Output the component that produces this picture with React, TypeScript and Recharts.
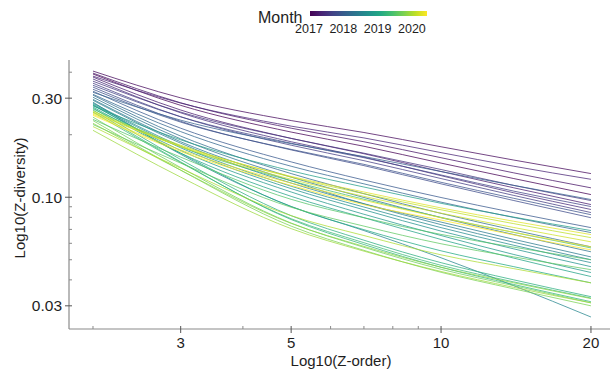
import React from 'react';
import { LineChart, Line, XAxis, YAxis } from 'recharts';

// Months Jan 2017 – May 2020
const months = [
  '2017-01', '2017-02', '2017-03', '2017-04', '2017-05', '2017-06', '2017-07', '2017-08', '2017-09', '2017-10', '2017-11', '2017-12',
  '2018-01', '2018-02', '2018-03', '2018-04', '2018-05', '2018-06', '2018-07', '2018-08', '2018-09', '2018-10', '2018-11', '2018-12',
  '2019-01', '2019-02', '2019-03', '2019-04', '2019-05', '2019-06', '2019-07', '2019-08', '2019-09', '2019-10', '2019-11', '2019-12',
  '2020-01', '2020-02', '2020-03', '2020-04', '2020-05',
];

// Z-order (x)
const orders = [2, 3, 5, 7, 10, 14, 20];

// Z-diversity values per month, at each order
const div2017 = [
  [0.392, 0.277, 0.206, 0.176, 0.146, 0.123, 0.103],
  [0.405, 0.301, 0.234, 0.205, 0.175, 0.151, 0.130],
  [0.396, 0.285, 0.215, 0.185, 0.155, 0.131, 0.111],
  [0.379, 0.263, 0.192, 0.162, 0.133, 0.111, 0.0922],
  [0.383, 0.284, 0.220, 0.193, 0.164, 0.141, 0.122],
  [0.371, 0.255, 0.185, 0.156, 0.127, 0.105, 0.0873],
  [0.362, 0.257, 0.192, 0.163, 0.136, 0.114, 0.0964],
  [0.354, 0.244, 0.178, 0.150, 0.123, 0.102, 0.0844],
  [0.346, 0.244, 0.182, 0.155, 0.128, 0.107, 0.0902],
  [0.339, 0.232, 0.169, 0.142, 0.116, 0.0964, 0.0797],
  [0.331, 0.230, 0.170, 0.144, 0.118, 0.0988, 0.0824],
  [0.324, 0.215, 0.148, 0.121, 0.0997, 0.0843, 0.0714],
];
const div2018 = [
  [0.320, 0.235, 0.181, 0.157, 0.133, 0.114, 0.0975],
  [0.313, 0.207, 0.141, 0.116, 0.0947, 0.0799, 0.0676],
  [0.310, 0.197, 0.130, 0.104, 0.0836, 0.0695, 0.0577],
  [0.303, 0.191, 0.125, 0.0997, 0.0797, 0.0661, 0.0546],
  [0.296, 0.185, 0.120, 0.0931, 0.0759, 0.0627, 0.0516],
  [0.293, 0.182, 0.117, 0.0928, 0.0738, 0.0607, 0.0500],
  [0.287, 0.161, 0.0903, 0.0691, 0.0511, 0.0375, 0.0265],
  [0.284, 0.176, 0.113, 0.0897, 0.0714, 0.0587, 0.0484],
  [0.281, 0.173, 0.110, 0.0870, 0.0687, 0.0564, 0.0463],
  [0.278, 0.168, 0.106, 0.0828, 0.0654, 0.0530, 0.0434],
  [0.275, 0.189, 0.134, 0.112, 0.0935, 0.0802, 0.0691],
  [0.272, 0.163, 0.101, 0.0797, 0.0626, 0.0509, 0.0415],
];
const div2019 = [
  [0.278, 0.163, 0.0901, 0.0698, 0.0552, 0.0463, 0.0387],
  [0.269, 0.152, 0.0815, 0.0621, 0.0484, 0.0400, 0.0332],
  [0.263, 0.148, 0.0781, 0.0592, 0.0460, 0.0380, 0.0314],
  [0.257, 0.147, 0.0788, 0.0604, 0.0470, 0.0391, 0.0327],
  [0.266, 0.175, 0.120, 0.0978, 0.0800, 0.0677, 0.0570],
  [0.237, 0.156, 0.0977, 0.0797, 0.0662, 0.0575, 0.0500],
  [0.224, 0.146, 0.0895, 0.0726, 0.0597, 0.0516, 0.0448],
  [0.243, 0.139, 0.0751, 0.0574, 0.0450, 0.0375, 0.0310],
  [0.234, 0.135, 0.0726, 0.0555, 0.0435, 0.0362, 0.0300],
  [0.227, 0.135, 0.0748, 0.0580, 0.0460, 0.0387, 0.0325],
  [0.210, 0.125, 0.0706, 0.0550, 0.0439, 0.0368, 0.0310],
  [0.219, 0.138, 0.0815, 0.0654, 0.0528, 0.0453, 0.0387],
];
const div2020 = [
  [0.260, 0.178, 0.125, 0.104, 0.0870, 0.0746, 0.0639],
  [0.257, 0.175, 0.122, 0.101, 0.0838, 0.0715, 0.0610],
  [0.254, 0.176, 0.126, 0.106, 0.0888, 0.0766, 0.0661],
  [0.251, 0.169, 0.117, 0.0966, 0.0797, 0.0678, 0.0577],
  [0.248, 0.166, 0.114, 0.0921, 0.0776, 0.0658, 0.0558],
];

const xTicks = [2, 3, 4, 5, 6, 7, 8, 9, 10, 20];
const xMajor = [3, 5, 10, 20];
const yTicks = [0.03, 0.04, 0.05, 0.06, 0.07, 0.08, 0.09, 0.1, 0.2, 0.3, 0.4];
const yMajor: Record<string, string> = { '0.03': '0.03', '0.1': '0.10', '0.3': '0.30' };
const legendYears = ['2017', '2018', '2019', '2020'];

const allSeries = [...div2017, ...div2018, ...div2019, ...div2020];

const rows = orders.map((x, j) => {
  const r: Record<string, number> = { x };
  allSeries.forEach((s, i) => {
    r['m' + i] = s[j];
  });
  return r;
});

const VIRIDIS = ['#440154', '#482475', '#414487', '#355f8d', '#2a788e', '#21918c', '#22a884', '#44bf70', '#7ad151', '#bddf26', '#fde725'];
function hex(c: string) {
  return [parseInt(c.slice(1, 3), 16), parseInt(c.slice(3, 5), 16), parseInt(c.slice(5, 7), 16)];
}
function viridis(t: number) {
  const p = Math.max(0, Math.min(1, t)) * (VIRIDIS.length - 1);
  const i = Math.min(Math.floor(p), VIRIDIS.length - 2);
  const f = p - i;
  const a = hex(VIRIDIS[i]);
  const b = hex(VIRIDIS[i + 1]);
  const c = a.map((v, k) => Math.round(v + (b[k] - v) * f));
  return `rgb(${c[0]},${c[1]},${c[2]})`;
}

const FONT = 'Liberation Sans, Arial, Helvetica, sans-serif';
const TEXT = '#1e1e1e';
const AXIS = '#8a8a8a';

const XTick = (props: any) => {
  const { x, y, payload } = props;
  const v = payload.value;
  const major = xMajor.includes(v);
  return (
    <g>
      <line x1={x} x2={x} y1={y - 3} y2={major ? y + 4 : y} stroke={major ? '#555' : AXIS} strokeWidth={1} />
      {major && (
        <text x={x} y={y + 19} textAnchor="middle" fontSize={15} fontFamily={FONT} fill={TEXT}>
          {v}
        </text>
      )}
    </g>
  );
};

const YTick = (props: any) => {
  const { x, y, payload } = props;
  const key = String(payload.value);
  const lab = yMajor[key];
  return (
    <g>
      <line x1={lab ? x - 4 : x} x2={x + 3} y1={y} y2={y} stroke={lab ? '#555' : AXIS} strokeWidth={1} />
      {lab && (
        <text x={x - 7} y={y + 5.5} textAnchor="end" fontSize={15.5} fontFamily={FONT} fill={TEXT}>
          {lab}
        </text>
      )}
    </g>
  );
};

export default function App() {
  const n = months.length;
  return (
    <div style={{ position: 'fixed', left: 0, top: 0, width: 611, height: 374, background: '#fff' }}>
      <LineChart width={611} height={374} data={rows} margin={{ top: 60, right: 1, bottom: 0, left: 9 }}>
        <XAxis
          dataKey="x"
          type="number"
          scale="log"
          domain={[1.79, 21.84]}
          allowDataOverflow
          ticks={xTicks}
          interval={0}
          tick={(p: any) => <XTick {...p} />}
          tickLine={false}
          tickSize={0}
          tickMargin={0}
          axisLine={{ stroke: AXIS, strokeWidth: 1.2 }}
          height={45}
        />
        <YAxis
          type="number"
          scale="log"
          domain={[0.0232, 0.458]}
          allowDataOverflow
          ticks={yTicks}
          interval={0}
          tick={(p: any) => <YTick {...p} />}
          tickLine={false}
          tickSize={0}
          tickMargin={0}
          axisLine={{ stroke: AXIS, strokeWidth: 1.2 }}
          width={60}
        />
        {allSeries.map((_, i) => (
          <Line
            key={months[i]}
            name={months[i]}
            dataKey={'m' + i}
            type="monotone"
            stroke={viridis(i / (n - 1))}
            strokeWidth={1}
            strokeOpacity={0.75}
            dot={false}
            activeDot={false}
            isAnimationActive={false}
          />
        ))}
      </LineChart>
      <svg width={611} height={374} style={{ position: 'absolute', left: 0, top: 0, pointerEvents: 'none' }}>
        <defs>
          <linearGradient id="vir" x1="0" x2="1" y1="0" y2="0">
            {VIRIDIS.map((c, i) => (
              <stop key={i} offset={i / (VIRIDIS.length - 1)} stopColor={c} />
            ))}
          </linearGradient>
        </defs>
        <text x={258} y={23} fontSize={16} fontFamily={FONT} fill={TEXT}>
          Month
        </text>
        <rect x={310} y={11} width={117} height={5} fill="url(#vir)" />
        {legendYears.map((yr, i) => (
          <text key={yr} x={309 + i * 34.3} y={33} textAnchor="middle" fontSize={12.5} fontFamily={FONT} fill={TEXT}>
            {yr}
          </text>
        ))}
        <text x={341} y={366} textAnchor="middle" fontSize={15} fontFamily={FONT} fill={TEXT}>
          Log10(Z-order)
        </text>
        <text x={25} y={198} textAnchor="middle" fontSize={15} fontFamily={FONT} fill={TEXT} transform="rotate(-90 25 198)">
          Log10(Z-diversity)
        </text>
      </svg>
    </div>
  );
}
